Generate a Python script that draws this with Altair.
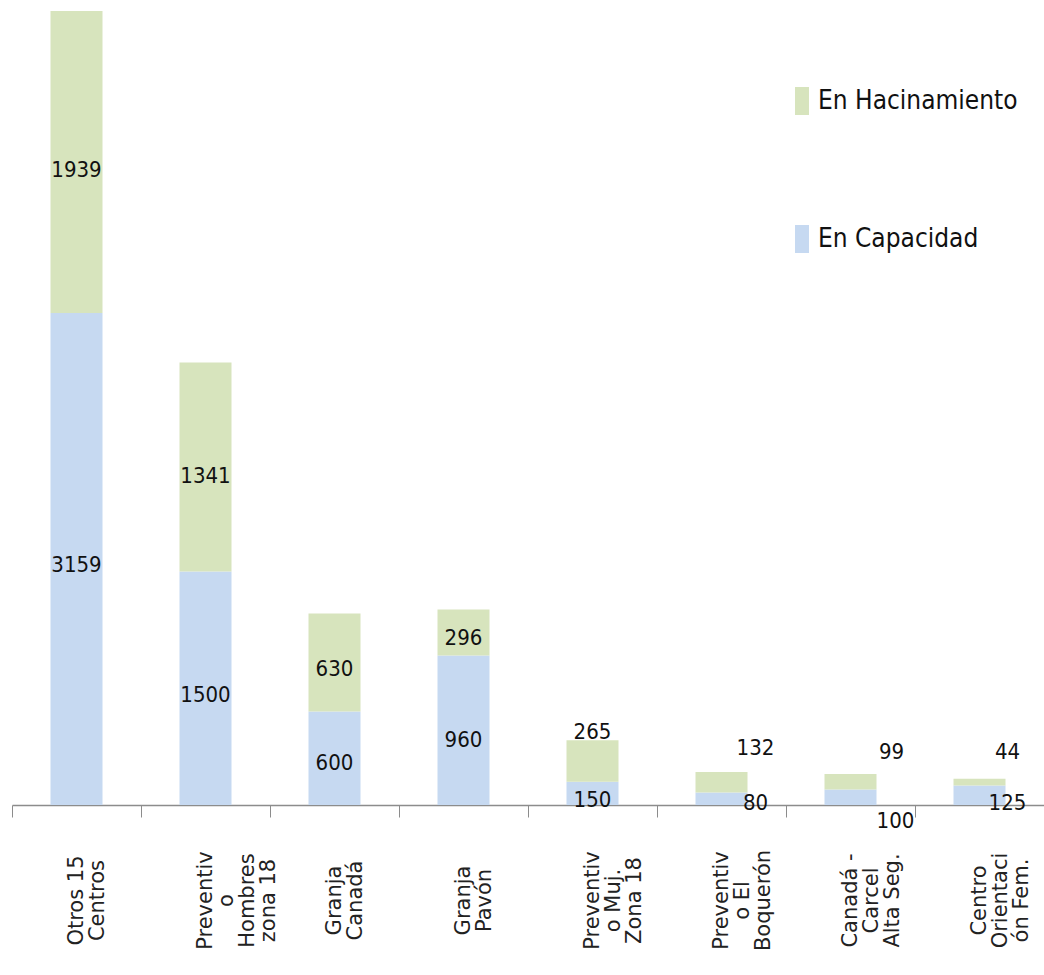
import altair as alt
import pandas as pd

# ---- data ----
categories = [
    "Otros 15|Centros",
    "Preventiv|o|Hombres|zona 18",
    "Granja|Canadá",
    "Granja|Pavón",
    "Preventiv|o Muj.|Zona 18",
    "Preventiv|o El|Boquerón",
    "Canadá -|Carcel|Alta  Seg.",
    "Centro|Orientaci|ón Fem.",
]
en_capacidad = [3159, 1500, 600, 960, 150, 80, 100, 125]
en_hacinamiento = [1939, 1341, 630, 296, 265, 132, 99, 44]
series = ["En Capacidad", "En Hacinamiento"]
colors = ["#C6D9F1", "#D7E4BD"]

# label nudges (pixels) relative to the middle of each segment
cap_dx = [0, 0, 0, 0, 0, 34, 45, 28]
cap_dy = [6, 7, 5, 10, 7, 4, 24, 8]
hac_dx = [0, 0, 0, 0, 0, 34, 41, 28]
hac_dy = [8, 9, 7, 6, -29, -34, -30, -30]

W, H = 1032, 794
ymax = max(a + b for a, b in zip(en_capacidad, en_hacinamiento))
units_per_px = ymax / H

rows = []
for i, c in enumerate(categories):
    base = 0
    for s, vals, dxs, dys, order in [
        (series[0], en_capacidad, cap_dx, cap_dy, 0),
        (series[1], en_hacinamiento, hac_dx, hac_dy, 1),
    ]:
        v = vals[i]
        rows.append({
            "cat": c, "serie": s, "value": v, "order": order,
            "ylab": base + v / 2 - dys[i] * units_per_px, "dx": dxs[i],
        })
        base += v
df = pd.DataFrame(rows)

NARROW = "Liberation Sans Narrow, DejaVu Sans Condensed, Roboto Condensed, Open Sans Condensed, sans-serif"

x_enc = alt.X(
    "cat:N", sort=categories,
    scale=alt.Scale(paddingInner=0, paddingOuter=0),
    axis=alt.Axis(
        title=None, labelExpr="split(datum.label, '|')",
        labelAngle=270, labelAlign="center", labelBaseline="middle",
        labelPadding=83, tickSize=12, tickBand="extent",
        domainColor="#8c8c8c", tickColor="#8c8c8c", domainWidth=1.5,
        labelFont="DejaVu Sans", labelFontSize=21, labelLineHeight=21,
        labelColor="#222222", labelOverlap=False, labelLimit=0,
    ),
)

yscale = alt.Scale(domain=[0, ymax], nice=False)

bars = alt.Chart(df).mark_bar(size=52).encode(
    x=x_enc,
    y=alt.Y("value:Q", stack="zero", scale=yscale, axis=None),
    color=alt.Color(
        "serie:N",
        scale=alt.Scale(domain=[series[1], series[0]], range=[colors[1], colors[0]]),
        legend=alt.Legend(
            title=None, orient="none", legendX=776, legendY=76,
            symbolType="M-0.5,-1H0.5V1H-0.5Z", symbolSize=784,
            symbolStrokeWidth=0, symbolOpacity=1,
            labelFont=NARROW, labelFontSize=26,
            labelColor="#111111", labelOffset=2, rowPadding=110,
            labelLimit=0,
        ),
    ),
    order=alt.Order("order:Q"),
)

labels = alt.Chart(df).mark_text(
    font=NARROW, fontSize=22, color="#111111",
    align="center", baseline="middle", dx=W / len(categories) / 2,
).encode(
    x=alt.X("cat:N", sort=categories),
    y=alt.Y("ylab:Q", scale=yscale),
    xOffset=alt.XOffset("dx:Q", scale=None),
    text=alt.Text("value:Q"),
)

chart = alt.layer(bars, labels).properties(
    width=W, height=H,
    autosize=alt.AutoSizeParams(type="none"),
    padding={"left": 12, "top": 11, "right": 0, "bottom": 170},
    background="white",
).configure_view(stroke=None)

chart.save("out.html", embed_options={"renderer": "svg", "actions": False})
